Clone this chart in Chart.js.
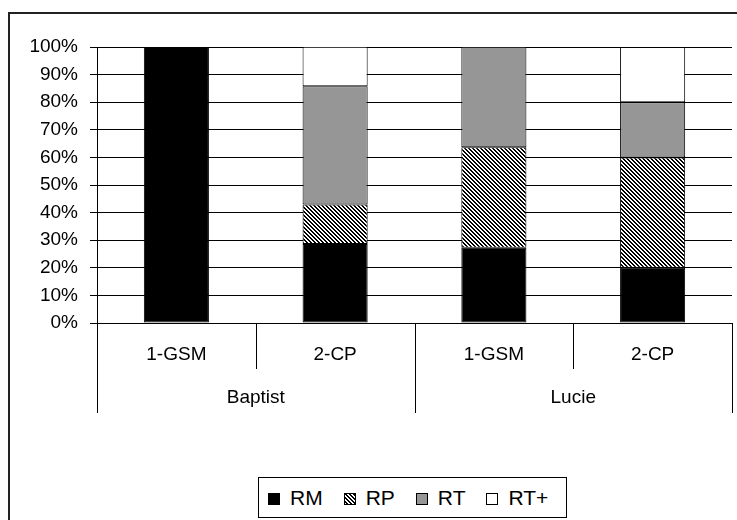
<!DOCTYPE html>
<html>
<head>
<meta charset="utf-8">
<script src="https://cdn.jsdelivr.net/npm/chart.js@4"></script>
<style>
  body { margin: 0; background: #fff; }
  #wrap { position: relative; width: 737px; height: 520px; overflow: hidden; }
  #frame { position: absolute; left: 8px; top: 12px; width: 800px; height: 600px; border: 2px solid #222; }
  #chart { position: absolute; left: 0; top: 0; }
  #legend {
    position: absolute; left: 258px; top: 477px; width: 309px; height: 41px;
    box-sizing: border-box; border: 1px solid #000; background: #fff;
    display: flex; align-items: center; justify-content: flex-start; padding-left: 9px;
    font-family: "Liberation Sans", Arial, sans-serif; font-size: 21px; color: #000;
  }
  .item { display: flex; align-items: center; margin-right: 21px; }
  .box { width: 12px; height: 12px; box-sizing: border-box; border: 1px solid #000; margin-right: 10px; margin-top: 3px; }
</style>
</head>
<body>
<div id="wrap">
  <div id="frame"></div>
  <canvas id="chart" width="737" height="520"></canvas>
  <div id="legend"></div>
</div>
<script>
"use strict";

// data
const groups = ["Baptist", "Lucie"];
const subCats = ["1-GSM", "2-CP", "1-GSM", "2-CP"];
const seriesNames = ["RM", "RP", "RT", "RT+"];
const rm = [100, 28.6, 27.3, 20];
const rp = [null, 14.3, 36.4, 40];
const rt = [null, 42.9, 36.4, 20];
const rtPlus = [null, 14.3, null, 20];
const yTickStep = 10;

const font = "Liberation Sans, Arial, sans-serif";

// hatch pattern for RP
const pc = document.createElement("canvas");
pc.width = 4;
pc.height = 4;
const pg = pc.getContext("2d");
pg.fillStyle = "#fff";
pg.fillRect(0, 0, 4, 4);
pg.fillStyle = "#000";
for (let y = 0; y < 4; y++) {
  for (let x = 0; x < 4; x++) {
    if ((x - y + 8) % 4 < 2) pg.fillRect(x, y, 1, 1);
  }
}
const ctx = document.getElementById("chart").getContext("2d");
const hatch = ctx.createPattern(pc, "repeat");

const fills = ["#000", hatch, "#969696", "#fff"];
const values = [rm, rp, rt, rtPlus];

// two level category axis drawn from the x scale
const categoryAxis = {
  id: "categoryAxis",
  afterDraw(chart) {
    const x = chart.scales.x;
    const bottom = chart.chartArea.bottom;
    const c = chart.ctx;
    const half = (x.getPixelForValue(1) - x.getPixelForValue(0)) / 2;
    c.save();
    c.strokeStyle = "#000";
    c.lineWidth = 1;
    for (let i = 0; i <= subCats.length; i++) {
      const bx = Math.round(x.getPixelForValue(i) - half) + 0.5;
      const len = i % 2 === 0 ? 90 : 46;
      c.beginPath();
      c.moveTo(bx, bottom);
      c.lineTo(bx, bottom + len);
      c.stroke();
    }
    c.fillStyle = "#000";
    c.font = "19px " + font;
    c.textAlign = "center";
    c.textBaseline = "middle";
    subCats.forEach(function(lab, i) {
      c.fillText(lab, x.getPixelForValue(i), bottom + 32);
    });
    groups.forEach(function(g, j) {
      const mid = (x.getPixelForValue(j * 2) + x.getPixelForValue(j * 2 + 1)) / 2;
      c.fillText(g, mid, bottom + 75);
    });
    c.restore();
  }
};

new Chart(ctx, {
  type: "bar",
  data: {
    labels: subCats,
    datasets: seriesNames.map(function(name, i) {
      return {
        label: name,
        data: values[i],
        backgroundColor: fills[i],
        borderColor: "#000",
        borderWidth: 1,
        borderSkipped: false,
        barPercentage: 0.41,
        categoryPercentage: 1
      };
    })
  },
  options: {
    responsive: false,
    animation: false,
    layout: { padding: { left: 0, top: 47, right: 5, bottom: 197 } },
    plugins: { legend: { display: false }, tooltip: { enabled: false } },
    scales: {
      x: { stacked: true, display: false },
      y: {
        stacked: true,
        min: 0,
        max: 100,
        afterFit: function(scale) { scale.width = 97; },
        ticks: {
          stepSize: yTickStep,
          padding: 12,
          color: "#000",
          font: { family: font, size: 19 },
          callback: function(v) { return v + "%"; }
        },
        grid: { color: "#000", lineWidth: 1, tickLength: 7 },
        border: { color: "#000", width: 1 }
      }
    }
  },
  plugins: [categoryAxis]
});

// legend
const legend = document.getElementById("legend");
seriesNames.forEach(function(name, i) {
  const item = document.createElement("div");
  item.className = "item";
  const box = document.createElement("span");
  box.className = "box";
  if (i === 1) {
    box.style.backgroundImage = "url(" + pc.toDataURL() + ")";
  } else {
    box.style.background = fills[i];
  }
  const txt = document.createElement("span");
  txt.textContent = name;
  item.appendChild(box);
  item.appendChild(txt);
  legend.appendChild(item);
});
</script>
</body>
</html>
